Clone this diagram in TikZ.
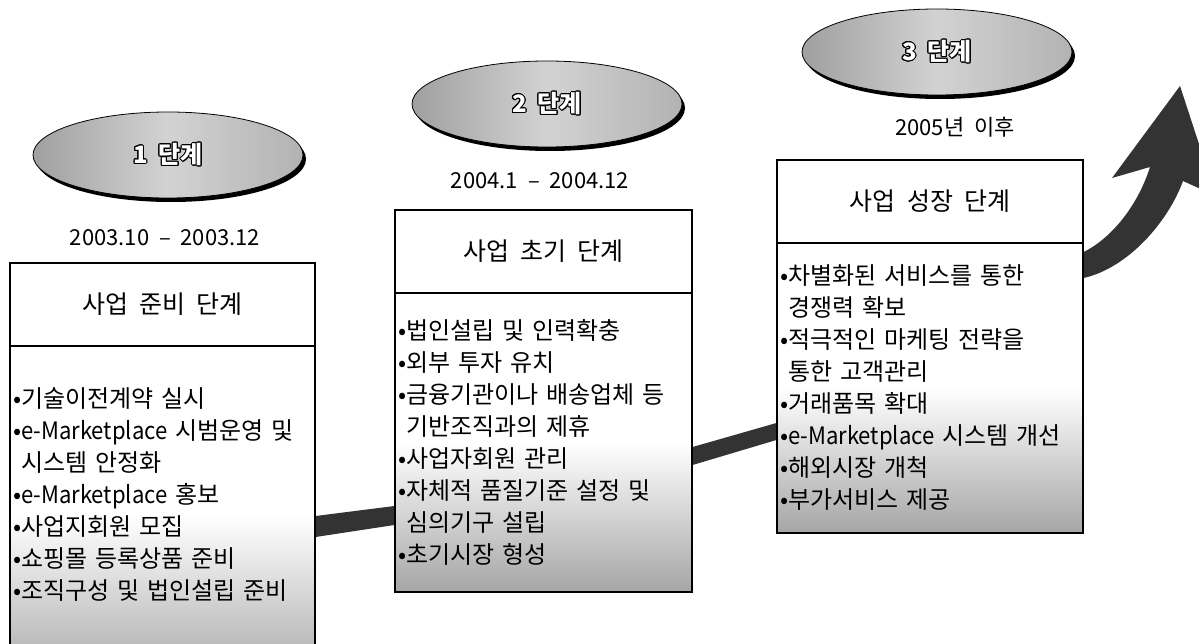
\documentclass[tikz,border=0pt]{standalone}
\usepackage{fontspec}
\usepackage{graphicx}
\setmainfont[WordSpace=2.0]{Noto Sans CJK KR}
\usepackage[copies]{contour}
\contourlength{1.1pt}
\usetikzlibrary{positioning,shapes.geometric,shadows,backgrounds}

\newcommand{\stagetext}[1]{\contour{black}{\textcolor{white}{#1}}}
\newcommand{\emkt}{\scalebox{0.92}[1]{e-Marketplace}}

\tikzset{
  stage/.style={ellipse, minimum width=270pt, minimum height=86pt, draw=black, line width=0.8pt,
    left color=gray!75, right color=gray!60, middle color=gray!35,
    drop shadow={shadow xshift=3pt, shadow yshift=-4pt, fill=black, opacity=1},
    font=\fontsize{24}{24}\selectfont\bfseries},
  period/.style={font=\fontsize{22}{22}\selectfont},
  titlebox/.style={draw, line width=1.2pt, fill=white, minimum height=83pt, inner sep=0pt,
    font=\fontsize{25}{25}\selectfont},
  listbox/.style={draw, line width=1.2pt, top color=white, bottom color=gray!70, middle color=white,
    align=left, inner xsep=3pt, font=\fontsize{24}{32}\selectfont},
  band/.style={fill=black!80}
}

\begin{document}
\begin{tikzpicture}[x=1pt,y=-1pt]
\useasboundingbox (0,0) rectangle (1199,644);
\node[stage] (s1) at (168,155) {\stagetext{1 단계}};
\node[stage] (s2) at (547,104) {\stagetext{2 단계}};
\node[stage] (s3) at (937,52) {\stagetext{3 단계}};
\node[period] (d1) at (165,238) {2003.10 – 2003.12};
\node[period] (d2) at (540,181) {2004.1 – 2004.12};
\node[period] (d3) at (955,127) {2005년 이후};
\node[titlebox, minimum width=305pt] (t1) at (162.5,304.5) {사업 준비 단계};
\node[titlebox, minimum width=297pt] (t2) at (543.5,251.5) {사업 초기 단계};
\node[titlebox, minimum width=306pt] (t3) at (930,201.5) {사업 성장 단계};
\node[listbox, text width=299pt, minimum height=340pt, text depth=236pt, below=-1.2pt of t1] (l1) {%
•기술이전계약 실시\\
•\emkt{} 시범운영 및\\
\phantom{•}시스템 안정화\\
•\emkt{} 홍보\\
•사업지회원 모집\\
•쇼핑몰 등록상품 준비\\
•조직구성 및 법인설립 준비};
\node[listbox, text width=291pt, minimum height=299pt, below=-1.2pt of t2] (l2) {%
•법인설립 및 인력확충\\
•외부 투자 유치\\
•금융기관이나 배송업체 등\\
\phantom{•}기반조직과의 제휴\\
•사업자회원 관리\\
•자체적 품질기준 설정 및\\
\phantom{•}심의기구 설립\\
•초기시장 형성};
\node[listbox, text width=300pt, minimum height=290pt, below=-1.2pt of t3] (l3) {%
•차별화된 서비스를 통한\\
\phantom{•}경쟁력 확보\\
•적극적인 마케팅 전략을\\
\phantom{•}통한 고객관리\\
•거래품목 확대\\
•\emkt{} 시스템 개선\\
•해외시장 개척\\
•부가서비스 제공};
\begin{scope}[on background layer]
\fill[band] (l1.east |- 0,516) -- (l2.west |- 0,506) -- (l2.west |- 0,525) -- (l1.east |- 0,537) -- cycle;
\fill[band] (l2.east |- 0,447) -- (l3.west |- 0,423) -- (l3.west |- 0,440) -- (l2.east |- 0,465) -- cycle;
\fill[band] (l3.east |- 0,252) .. controls (1112,238) and (1138,205) .. (1150,167) -- (1112,178) -- (1180,86)
  -- (1216,196) -- (1183,181) .. controls (1168,222) and (1128,268) .. (l3.east |- 0,278) -- cycle;
\end{scope}
\end{tikzpicture}
\end{document}
